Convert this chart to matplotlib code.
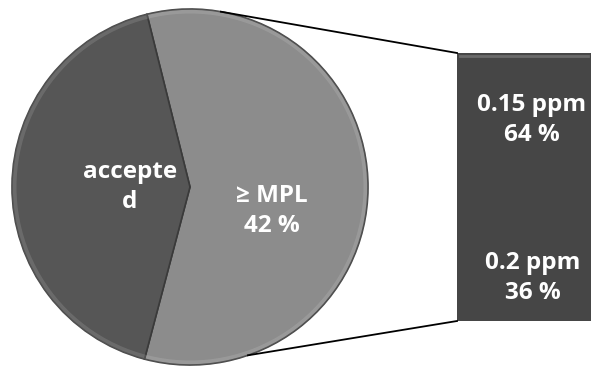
import numpy as np
import matplotlib.pyplot as plt
from matplotlib.patches import Wedge

# pie: the two main groups
pie_labels = ['\u2265 MPL\n42 %', 'accepte\nd']
pie_sizes = [58, 42]
pie_colors = ['#8c8c8c', '#565656']

# bar: break-down of the "\u2265 MPL" slice (top to bottom)
bar_labels = ['0.15 ppm\n64 %', '0.2 ppm\n36 %']
bar_sizes = [64, 36]
bar_color = '#464646'

plt.rcParams['font.family'] = ['Open Sans', 'DejaVu Sans']

fig = plt.figure(figsize=(5.92, 3.69), dpi=100)
ax = fig.add_axes([0, 0, 1, 1])

# pie geometry in pixel units
cx, cy, r = 190, 187, 178
start = 104

wedges, _ = ax.pie(pie_sizes, colors=pie_colors, startangle=start, counterclock=False,
                   center=(cx, -cy), radius=r, frame=True,
                   wedgeprops=dict(linewidth=1.2, edgecolor='#3a3a3a'))
# pie draws in y-up coords, flip them into the pixel axes
for w in wedges:
    w.set_center((cx, cy))
    t1, t2 = w.theta1, w.theta2
    w.set_theta1(-t2)
    w.set_theta2(-t1)
ax.set_xlim(0, 592)
ax.set_ylim(369, 0)
ax.set_aspect('equal')
ax.axis('off')

# soft rim highlight
ax.add_patch(Wedge((cx, cy), r + 0.5, 0, 360, width=5, facecolor='white', alpha=0.12,
                   edgecolor='none'))

# bar (stacked, single colour)
bx0, bx1 = 457, 591
by0, by1 = 53, 321
bw = bx1 - bx0
scale = (by1 - by0) / sum(bar_sizes)
heights = [v * scale for v in bar_sizes]
bottoms = np.cumsum([by0] + heights[:-1])
ax.bar([bx0 + bw / 2] * len(bar_sizes), heights, bottom=bottoms, width=bw,
       color=bar_color, edgecolor=bar_color, linewidth=0)
ax.plot([bx0 + 3, bx1 - 3], [by0 + 3, by0 + 3], color='#6a6a6a', lw=2)

# connector lines from the pie rim to the bar corners
a_top = np.deg2rad(80)
a_bot = np.deg2rad(-71)
ax.plot([cx + r * np.cos(a_top), bx0], [cy - r * np.sin(a_top), by0], color='black', lw=1.3)
ax.plot([cx + r * np.cos(a_bot), bx0], [cy - r * np.sin(a_bot), by1], color='black', lw=1.3)

txt = dict(color='white', fontsize=17.5, fontweight='bold', ha='center', va='center',
           linespacing=1.35)
ax.text(272, 211, pie_labels[0], **txt)
ax.text(130, 187, pie_labels[1], **txt)
ax.text(532, 120, bar_labels[0], **txt)
ax.text(533, 278, bar_labels[1], **txt)

fig.savefig('out.png', dpi=100)
